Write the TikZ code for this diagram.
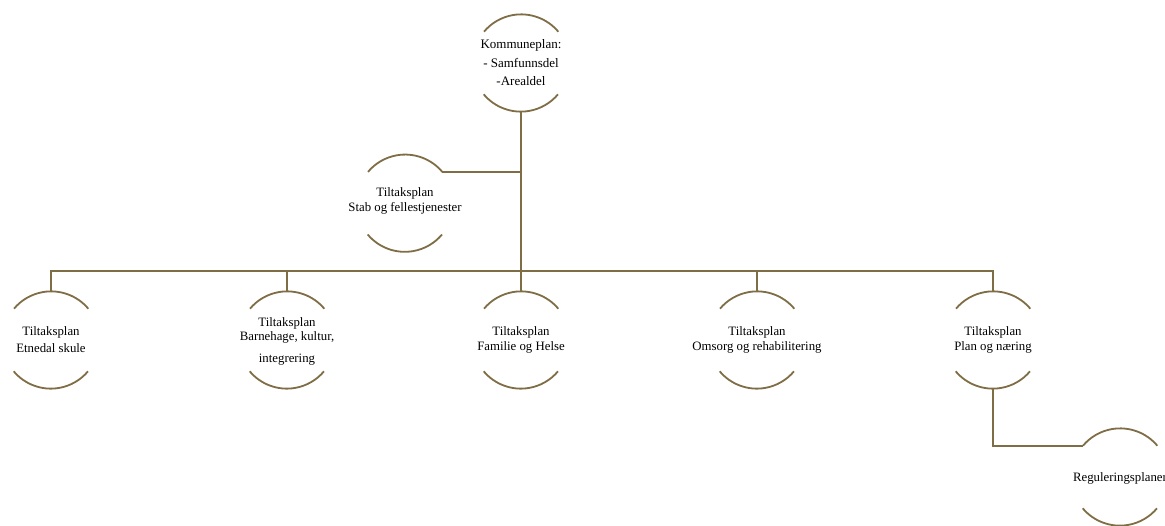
\documentclass[tikz,border=0pt]{standalone}
\usepackage{fontspec}
\setmainfont{Liberation Serif}
\definecolor{linec}{HTML}{7F6D45}
\begin{document}
\begin{tikzpicture}[x=1pt,y=1pt,
  ring/.style={circle,minimum size=97pt,inner sep=0pt},
  arcline/.style={draw=linec,line width=1.8pt},
  lbl/.style={align=center,font=\fontsize{12.8}{14.5}\selectfont,inner sep=0pt},
  conn/.style={draw=linec,line width=1.8pt}]
\useasboundingbox (0,0) rectangle (1165,-525);
% nodes
\node[ring] (top) at (521,-63) {};
\node[lbl,font=\fontsize{13}{18.5}\selectfont] (toptxt) at (521,-63) {Kommuneplan:\\- Samfunnsdel\\-Arealdel};
\node[ring] (stab) at (405,-203.2) {};
\node[lbl] (stabtxt) at (405,-201) {Tiltaksplan\\Stab og fellestjenester};
\node[ring] (c1) at (51,-340) {};
\node[lbl,font=\fontsize{12.8}{17}\selectfont] (c1txt) at (51,-340) {Tiltaksplan\\Etnedal skule};
\node[ring] (c2) at (287,-340) {};
\node[lbl] (c2txt) at (287,-341.5) {Tiltaksplan\\[-1pt]Barnehage, kultur,\\[8pt]integrering};
\node[ring] (c3) at (521,-340) {};
\node[lbl] (c3txt) at (521,-340) {Tiltaksplan\\Familie og Helse};
\node[ring] (c4) at (757,-340) {};
\node[lbl] (c4txt) at (757,-340) {Tiltaksplan\\Omsorg og rehabilitering};
\node[ring] (c5) at (993,-340) {};
\node[lbl] (c5txt) at (993,-340) {Tiltaksplan\\Plan og næring};
\node[ring] (reg) at (1120,-477) {};
\node[lbl] (regtxt) at (1120,-478) {Reguleringsplaner};
% arcs (open circles)
\foreach \n in {top,stab,c1,c2,c3,c4,c5,reg}{
  \draw[arcline] (\n.40) arc[start angle=40,end angle=140,radius=48.5pt];
  \draw[arcline] (\n.220) arc[start angle=220,end angle=320,radius=48.5pt];
}
\coordinate (bus) at (521,-271);
% connectors
\draw[conn] (top.south) -- (bus);
\draw[conn] (stab.40) -- (stab.40 -| top.south);
\draw[conn] (c1.north) |- (bus) -| (c5.north);
\draw[conn] (c2.north) -- (c2.north |- bus);
\draw[conn] (c3.north) -- (bus);
\draw[conn] (c4.north) -- (c4.north |- bus);
\draw[conn] (c5.south) |- (reg.140);
\end{tikzpicture}
\end{document}
